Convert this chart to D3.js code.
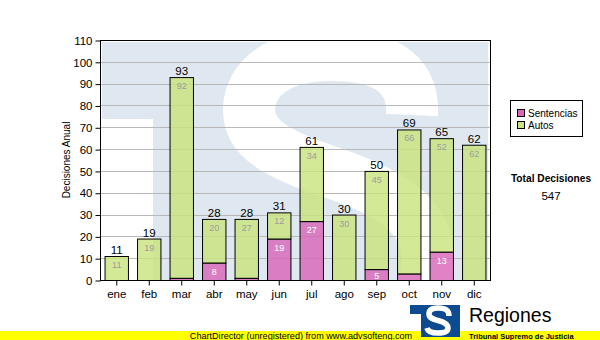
<!DOCTYPE html>
<html>
<head>
<meta charset="utf-8">
<script src="https://cdn.jsdelivr.net/npm/d3@7"></script>
<style>
  html, body { margin: 0; padding: 0; background: #ffffff; }
  svg { display: block; }
</style>
</head>
<body>
<script>
// Monthly decisions, stacked: sentencias (bottom) and autos (top)
const months = ["ene", "feb", "mar", "abr", "may", "jun", "jul", "ago", "sep", "oct", "nov", "dic"];
const sentencias = [0, 0, 1, 8, 1, 19, 27, 0, 5, 3, 13, 0];
const autos = [11, 19, 92, 20, 27, 12, 34, 30, 45, 66, 52, 62];
const yTicks = [0, 10, 20, 30, 40, 50, 60, 70, 80, 90, 100, 110];
const seriesNames = ["Sentencias", "Autos"];
const seriesColors = ["#d966b8", "#c9e47e"];

const W = 600, H = 340;
const plot = { left: 100, right: 490, top: 40, bottom: 280 };

const svg = d3.select("body").append("svg").attr("width", W).attr("height", H);

const x = d3.scaleBand().domain(months)
  .range([plot.left, plot.right]).paddingInner(0.28).paddingOuter(0.14);
const y = d3.scaleLinear().domain([0, 110]).range([plot.bottom, plot.top]);

const rows = months.map((m, i) => ({ month: m, Sentencias: sentencias[i], Autos: autos[i] }));
const stacked = d3.stack().keys(seriesNames)(rows);
const totals = rows.map(r => r.Sentencias + r.Autos);

// clip for the plot area
svg.append("defs").append("clipPath").attr("id", "plotClip")
  .append("rect").attr("x", plot.left + 1).attr("y", plot.top + 1)
  .attr("width", plot.right - plot.left - 1).attr("height", plot.bottom - plot.top - 1);

// watermark: pale emblem behind the bars
const wm = svg.append("g").attr("clip-path", "url(#plotClip)");
wm.append("rect").attr("x", 102).attr("y", 42).attr("width", 386).attr("height", 238).attr("fill", "#dfe8f1");
wm.append("rect").attr("x", 101).attr("y", 119).attr("width", 52).attr("height", 161).attr("fill", "#ffffff");
wm.append("path")
  .attr("d", "M 412,115 C 414,70 380,55 330,55 C 280,55 249,78 249,110 C 249,140 280,155 330,172 C 390,192 428,215 428,260 C 428,310 380,330 330,330 C 290,330 262,318 255,300")
  .attr("fill", "none").attr("stroke", "#ffffff").attr("stroke-width", 52);

// horizontal grid
svg.append("g").selectAll("line").data(yTicks.filter(t => t > 0 && t < 110)).join("line")
  .attr("x1", plot.left + 1).attr("x2", plot.right)
  .attr("y1", d => Math.round(y(d)) + 0.5).attr("y2", d => Math.round(y(d)) + 0.5)
  .attr("stroke", "#b8b8b8").attr("stroke-width", 1);

// stacked bars
const barG = svg.append("g");
stacked.forEach((layer, li) => {
  barG.append("g").selectAll("rect").data(layer.filter(d => d[1] - d[0] > 0)).join("rect")
    .attr("x", d => x(d.data.month) + 0.5)
    .attr("y", d => y(d[1]) + 0.5)
    .attr("width", x.bandwidth())
    .attr("height", d => y(d[0]) - y(d[1]))
    .attr("fill", seriesColors[li]).attr("fill-opacity", 0.82)
    .attr("stroke", "#000").attr("stroke-width", 1);
});

// segment value labels
const segLabel = (layer, color) => {
  svg.append("g").selectAll("text")
    .data(layer.filter(d => y(d[0]) - y(d[1]) >= 10)).join("text")
    .attr("x", d => x(d.data.month) + x.bandwidth() / 2 + 0.5)
    .attr("y", d => Math.min(y(d[1]) + 12, y(d[0]) - 1))
    .attr("text-anchor", "middle")
    .attr("font-family", "'Liberation Sans', Arial, sans-serif")
    .attr("font-size", "9px").attr("fill", color)
    .text(d => d[1] - d[0]);
};
segLabel(stacked[0], "#ffffff");
segLabel(stacked[1], "#9c9c9c");

// totals above bars
svg.append("g").selectAll("text").data(rows).join("text")
  .attr("x", d => x(d.month) + x.bandwidth() / 2 + 0.5)
  .attr("y", (d, i) => y(totals[i]) - 2)
  .attr("text-anchor", "middle")
  .attr("font-family", "'Liberation Sans', Arial, sans-serif")
  .attr("font-size", "11.5px").attr("fill", "#000")
  .text((d, i) => totals[i]);

// plot frame
svg.append("rect").attr("x", plot.left + 0.5).attr("y", plot.top + 0.5)
  .attr("width", plot.right - plot.left).attr("height", plot.bottom - plot.top)
  .attr("fill", "none").attr("stroke", "#000").attr("stroke-width", 1);

// axes
const yAxis = svg.append("g").attr("transform", `translate(${plot.left + 0.5},0.5)`)
  .call(d3.axisLeft(y).tickValues(yTicks).tickSize(5).tickPadding(3));
const xAxis = svg.append("g").attr("transform", `translate(0.5,${plot.bottom + 0.5})`)
  .call(d3.axisBottom(x).tickSize(5).tickPadding(4));
[yAxis, xAxis].forEach(a => {
  a.select(".domain").remove();
  a.selectAll("line").attr("stroke", "#000");
  a.selectAll("text").attr("font-family", "'Liberation Sans', Arial, sans-serif")
    .attr("font-size", "11.5px").attr("fill", "#000");
});

// y axis title
svg.append("text")
  .attr("transform", "translate(70,160) rotate(-90)")
  .attr("text-anchor", "middle")
  .attr("font-family", "'Liberation Sans', Arial, sans-serif")
  .attr("font-size", "10px").attr("fill", "#000")
  .text("Decisiones Anual");

// legend
const lg = svg.append("g");
lg.append("rect").attr("x", 510.5).attr("y", 100.5).attr("width", 72).attr("height", 36)
  .attr("fill", "#fff").attr("stroke", "#000");
seriesNames.forEach((name, i) => {
  lg.append("rect").attr("x", 517.5).attr("y", 109.5 + i * 12).attr("width", 7).attr("height", 7)
    .attr("fill", seriesColors[i]).attr("stroke", "#000");
  lg.append("text").attr("x", 528).attr("y", 117 + i * 12)
    .attr("font-family", "'Liberation Sans', Arial, sans-serif")
    .attr("font-size", "10px").attr("fill", "#000").text(name);
});

// total box
svg.append("text").attr("x", 551).attr("y", 182).attr("text-anchor", "middle")
  .attr("font-family", "'Liberation Sans', Arial, sans-serif").attr("font-weight", "bold")
  .attr("font-size", "10.2px").attr("fill", "#000").text("Total Decisiones");
svg.append("text").attr("x", 551).attr("y", 199.5).attr("text-anchor", "middle")
  .attr("font-family", "'Liberation Sans', Arial, sans-serif")
  .attr("font-size", "11.5px").attr("fill", "#000").text(d3.sum(totals));

// footer band
svg.append("rect").attr("x", 0).attr("y", 331).attr("width", W).attr("height", 9).attr("fill", "#ffff00");
svg.append("text").attr("x", 301).attr("y", 339).attr("text-anchor", "middle")
  .attr("font-family", "'Liberation Sans', Arial, sans-serif")
  .attr("font-size", "9.1px").attr("fill", "#000")
  .text("ChartDirector (unregistered) from www.advsofteng.com");

// emblem and caption
const logo = svg.append("g");
logo.append("path").attr("d", "M410,305 H460 V337 H421 V314 H410 Z").attr("fill", "#0e4a90");
logo.append("path")
  .attr("d", "M449,316 C449,309 444,308 438,308 C432,308 429,310 429,314 C429,318 433,319 438,320.5 C444,322 448,324 448,328 C448,332 443,333 438,333 C432,333 428,332 427,328")
  .attr("fill", "none").attr("stroke", "#fff").attr("stroke-width", 5.5);
svg.append("text").attr("x", 469).attr("y", 322)
  .attr("font-family", "'Liberation Sans', Arial, sans-serif")
  .attr("font-size", "19.5px").attr("fill", "#000").text("Regiones");
svg.append("text").attr("x", 469).attr("y", 338.5)
  .attr("font-family", "'Liberation Sans', Arial, sans-serif").attr("font-weight", "bold")
  .attr("font-size", "7.5px").attr("fill", "#000").text("Tribunal Supremo de Justicia");
</script>
</body>
</html>
